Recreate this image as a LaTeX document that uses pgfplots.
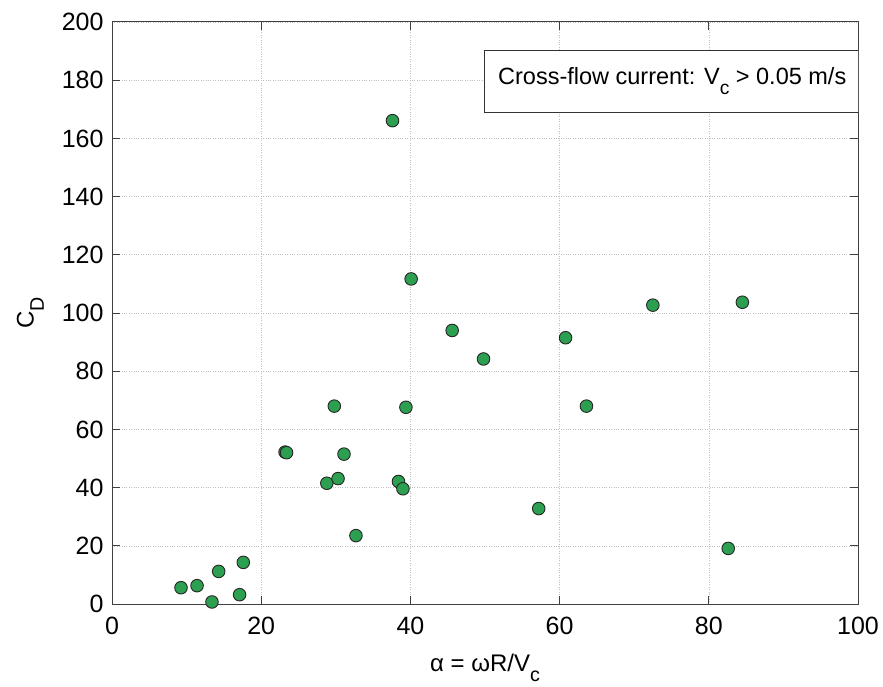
\documentclass[border=0pt]{standalone}
\usepackage{fontspec}
\setmainfont{Liberation Sans}
\usepackage{pgfplots}
\pgfplotsset{compat=1.18}
\definecolor{ptgreen}{RGB}{44,160,80}
\makeatletter
\newcommand\lowsub[1]{\raisebox{-0.42em}{\fontsize{\dimexpr0.82\dimexpr\f@size pt\relax\relax}{1em}\selectfont #1}}
\makeatother
\begin{document}
\begin{tikzpicture}
\path[use as bounding box] (0,0) rectangle (883pt,686pt);
\begin{axis}[
 at={(112pt,82pt)}, anchor=south west,
 scale only axis, width=746pt, height=582pt,
 xmin=0, xmax=100, ymin=0, ymax=200,
 xtick={0,20,...,100}, ytick={0,20,...,200},
 grid=major, grid style={dotted, gray!50, line width=0.6pt},
 tick align=inside, major tick length=8pt,
 axis line style={black!75, line width=1pt},
 tick style={black!75, line width=1pt},
 ticklabel style={font=\fontsize{25}{25}\selectfont},
 xticklabel style={yshift=-10pt},
 yticklabel style={xshift=-5pt},
 /pgf/number format/assume math mode=true,
 xlabel={α = ωR/V\lowsub{c}},
 ylabel={C\lowsub{D}},
 label style={font=\fontsize{24}{24}\selectfont, inner sep=0pt},
 xlabel style={at={(axis description cs:0.5,0)}, anchor=north, yshift=-50pt},
 ylabel style={at={(axis description cs:-0.0912,0.5)}, anchor=south},
]
\addplot[only marks, mark=*, mark size=6.3pt,
  mark options={fill=ptgreen, draw=black!85, line width=0.9pt}]
 coordinates {
 (9.25,5.6) (11.4,6.3) (13.4,0.7) (14.3,11.2) (17.1,3.2) (17.6,14.3)
 (23.2,52.2) (23.4,52.0)
 (29.8,68.0) (31.1,51.5) (28.8,41.5) (30.3,43.1) (32.7,23.5)
 (37.6,166.1) (40.1,111.7) (45.6,94.0) (49.8,84.2)
 (39.4,67.6) (38.4,42.1) (39.0,39.6)
 (60.8,91.5) (72.5,102.7) (84.5,103.7) (63.6,68.0) (57.2,32.8) (82.6,19.1)
 };
\node[draw=black!80, line width=1pt, fill=white, anchor=north east,
  minimum width=375pt, minimum height=62pt, inner sep=0pt,
  font=\fontsize{23.5}{23.5}\selectfont]
  at (rel axis cs:1.003,0.952) {Cross-flow current: V\lowsub{c} > 0.05 m/s};
\end{axis}
\end{tikzpicture}
\end{document}
